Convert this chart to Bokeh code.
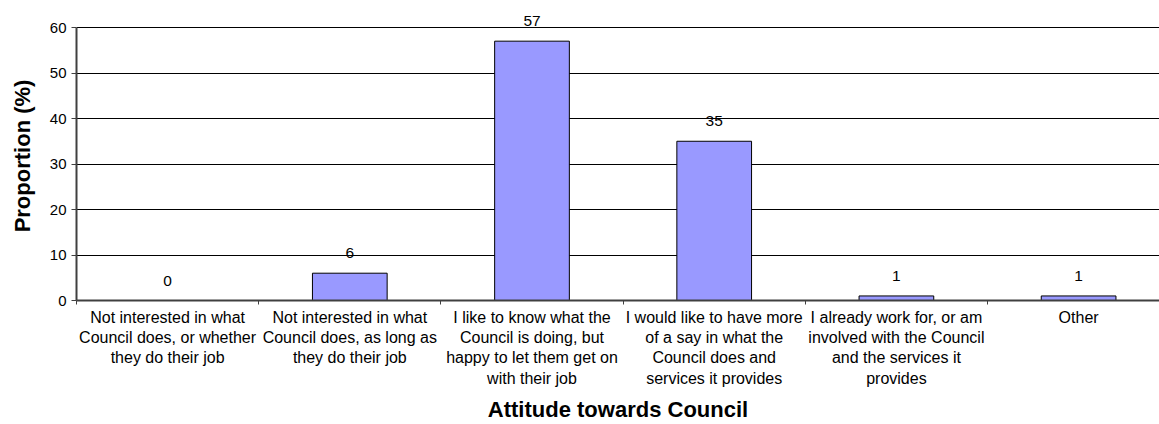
from bokeh.plotting import figure
from bokeh.models import FixedTicker, Range1d
from bokeh.embed import file_html
from bokeh.resources import INLINE
from bokeh.core.properties import value

categories = [
    "Not interested in what\nCouncil does, or whether\nthey do their job",
    "Not interested in what\nCouncil does, as long as\nthey do their job",
    "I like to know what the\nCouncil is doing, but\nhappy to let them get on\nwith their job",
    "I would like to have more\nof a say in what the\nCouncil does and\nservices it provides",
    "I already work for, or am\ninvolved with the Council\nand the services it\nprovides",
    "Other",
]
proportions = [0, 6, 57, 35, 1, 1]
y_ticks = [0, 10, 20, 30, 40, 50, 60]

FONT = "Liberation Sans"
xs = list(range(len(categories)))

p = figure(
    width=1159, height=424, output_backend="svg", toolbar_location=None,
    x_range=Range1d(-0.5, 5.444), y_range=Range1d(0, 63.52),
    min_border_left=76, min_border_top=11, min_border_right=0, min_border_bottom=20,
    x_axis_label="Attitude towards Council", y_axis_label="Proportion (%)",
)
p.outline_line_color = None
p.background_fill_color = "white"
p.border_fill_color = "white"

p.vbar(x=xs, top=proportions, width=0.41, fill_color="#9999FF",
       line_color="black", line_width=1)
p.text(x=xs, y=proportions, text=[str(v) for v in proportions],
       text_align="center", text_baseline="middle", y_offset=-20,
       text_font=value(FONT), text_font_size="15.5px", text_color="black")

# grid
p.xgrid.grid_line_color = None
p.ygrid.grid_line_color = "black"
p.ygrid.grid_line_width = 1
p.ygrid.ticker = FixedTicker(ticks=y_ticks)

# y axis
ya = p.yaxis[0]
ya.ticker = FixedTicker(ticks=y_ticks)
ya.bounds = (0, 60)
ya.axis_line_color = "#404040"
ya.axis_line_width = 2
ya.major_tick_line_color = "#404040"
ya.major_tick_out = 5
ya.major_tick_in = 0
ya.minor_tick_line_color = None
ya.major_label_standoff = 5
ya.major_label_text_font = FONT
ya.major_label_text_font_size = "15px"
ya.major_label_text_color = "black"
ya.axis_label_text_font = FONT
ya.axis_label_text_font_style = "bold"
ya.axis_label_text_font_size = "22px"
ya.axis_label_text_color = "black"
ya.axis_label_standoff = 12

# x axis
xa = p.xaxis[0]
xa.ticker = FixedTicker(ticks=xs, minor_ticks=[i - 0.5 for i in range(len(categories) + 1)])
xa.major_label_overrides = {i: c for i, c in enumerate(categories)}
xa.major_tick_line_color = None
xa.major_tick_out = 0
xa.major_tick_in = 0
xa.minor_tick_line_color = "#404040"
xa.minor_tick_out = 4
xa.minor_tick_in = 0
xa.axis_line_color = "#404040"
xa.axis_line_width = 2
xa.major_label_standoff = 4
xa.major_label_text_font = FONT
xa.major_label_text_font_size = "16px"
xa.major_label_text_color = "black"
xa.axis_label_text_font = FONT
xa.axis_label_text_font_style = "bold"
xa.axis_label_text_font_size = "22px"
xa.axis_label_text_color = "black"
xa.axis_label_standoff = 7

open("out.html", "w").write(file_html(p, INLINE))
